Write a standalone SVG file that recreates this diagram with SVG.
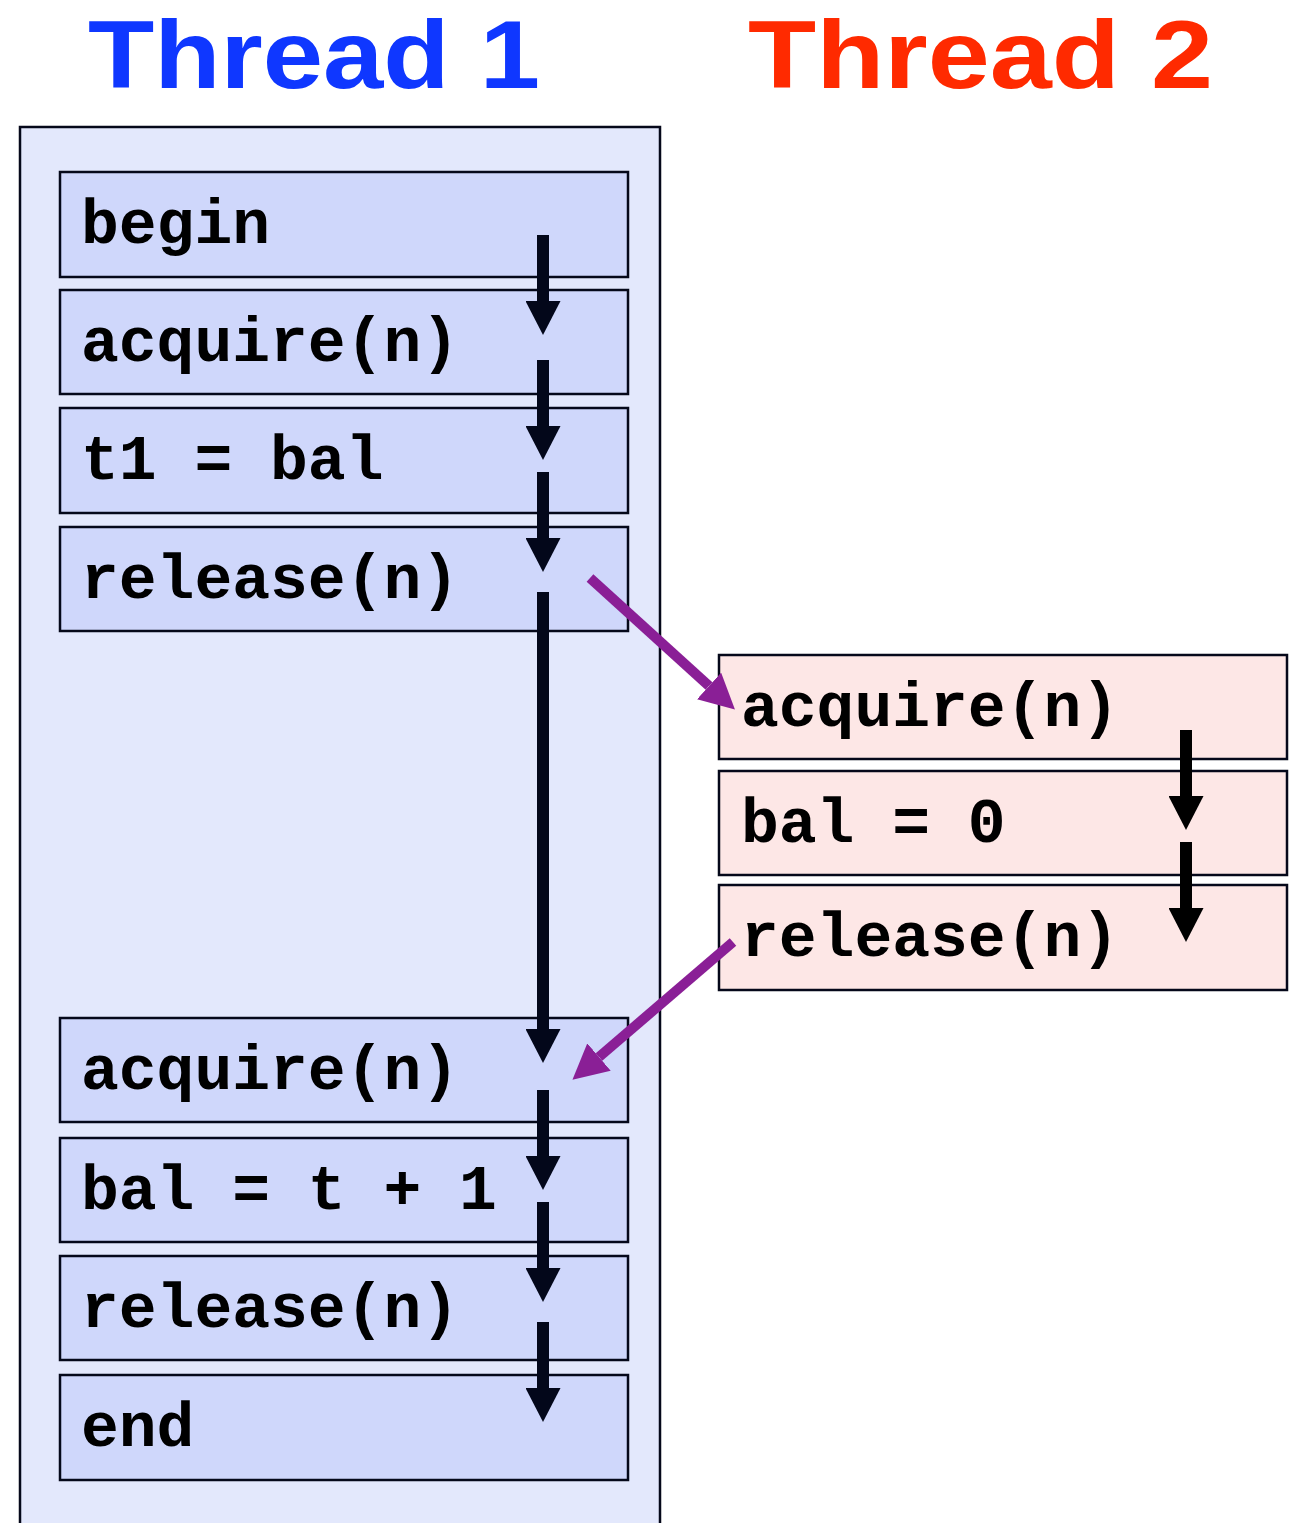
<svg xmlns="http://www.w3.org/2000/svg" width="1295" height="1523" viewBox="0 0 1295 1523">
<style>
.title{font-family:"Liberation Sans",Arial,sans-serif;font-weight:bold;font-size:96px}
.b1{fill:#cfd7fb;stroke:#05081a;stroke-width:2.5}
.b2{fill:#fde7e6;stroke:#05081a;stroke-width:2.5}
.code{font-family:"Liberation Mono","Courier New",monospace;font-weight:bold;font-size:63px;fill:#000}
.flow{stroke:#03071a;stroke-width:12;fill:none;marker-end:url(#hk)}
.flow2{stroke:#000;stroke-width:12;fill:none;marker-end:url(#hb)}
.cross{stroke:#8a1f96;stroke-width:10;fill:none;marker-end:url(#hp)}
</style>
<defs>
<marker id="hk" markerUnits="userSpaceOnUse" viewBox="0 0 34 35" markerWidth="34" markerHeight="35" refX="0" refY="17.5" orient="auto"><path d="M0,0 L34,17.5 L0,35 z" fill="#03071a"/></marker>
<marker id="hb" markerUnits="userSpaceOnUse" viewBox="0 0 34 35" markerWidth="34" markerHeight="35" refX="0" refY="17.5" orient="auto"><path d="M0,0 L34,17.5 L0,35 z" fill="#000"/></marker>
<marker id="hp" markerUnits="userSpaceOnUse" viewBox="0 0 35 36" markerWidth="35" markerHeight="36" refX="0" refY="18" orient="auto"><path d="M0,0 L35,18 L0,36 z" fill="#8a1f96"/></marker>
</defs>
<rect width="1295" height="1523" fill="#fff"/>
<g id="title1"><text class="title" x="88" y="88" fill="#0f37ff" textLength="452" lengthAdjust="spacingAndGlyphs">Thread 1</text></g>
<g id="title2"><text class="title" x="748" y="88" fill="#ff2a00" textLength="465" lengthAdjust="spacingAndGlyphs">Thread 2</text></g>
<g id="thread1-frame"><rect x="20" y="127" width="640" height="1410" fill="#e3e8fc" stroke="#05081a" stroke-width="2.5"/></g>
<g id="t1-begin"><rect class="b1" x="60" y="172" width="568" height="105"/><text class="code" x="81" y="243">begin</text></g>
<g id="t1-acquire1"><rect class="b1" x="60" y="290" width="568" height="104"/><text class="code" x="81" y="361">acquire(n)</text></g>
<g id="t1-read"><rect class="b1" x="60" y="408" width="568" height="105"/><text class="code" x="81" y="479">t1 = bal</text></g>
<g id="t1-release1"><rect class="b1" x="60" y="527" width="568" height="104"/><text class="code" x="81" y="598">release(n)</text></g>
<g id="t1-acquire2"><rect class="b1" x="60" y="1018" width="568" height="104"/><text class="code" x="81" y="1089">acquire(n)</text></g>
<g id="t1-write"><rect class="b1" x="60" y="1138" width="568" height="104"/><text class="code" x="81" y="1209">bal = t + 1</text></g>
<g id="t1-release2"><rect class="b1" x="60" y="1256" width="568" height="104"/><text class="code" x="81" y="1327">release(n)</text></g>
<g id="t1-end"><rect class="b1" x="60" y="1375" width="568" height="105"/><text class="code" x="81" y="1446">end</text></g>
<g id="t2-acquire"><rect class="b2" x="719" y="655" width="568" height="104"/><text class="code" x="741" y="726">acquire(n)</text></g>
<g id="t2-write"><rect class="b2" x="719" y="771" width="568" height="104"/><text class="code" x="741" y="842">bal = 0</text></g>
<g id="t2-release"><rect class="b2" x="719" y="885" width="568" height="105"/><text class="code" x="741" y="956">release(n)</text></g>
<g id="connectors">
<line class="flow" x1="543" y1="235" x2="543" y2="301"/>
<line class="flow" x1="543" y1="360" x2="543" y2="426"/>
<line class="flow" x1="543" y1="472" x2="543" y2="538"/>
<line class="flow" x1="543" y1="592" x2="543" y2="1029"/>
<line class="flow" x1="543" y1="1090" x2="543" y2="1156"/>
<line class="flow" x1="543" y1="1202" x2="543" y2="1268"/>
<line class="flow" x1="543" y1="1322" x2="543" y2="1388"/>
<line class="flow2" x1="1186" y1="730" x2="1186" y2="796"/>
<line class="flow2" x1="1186" y1="842" x2="1186" y2="908"/>
<line class="cross" x1="590" y1="578" x2="709" y2="686"/>
<line class="cross" x1="733" y1="942" x2="599" y2="1057"/>
</g>
</svg>
